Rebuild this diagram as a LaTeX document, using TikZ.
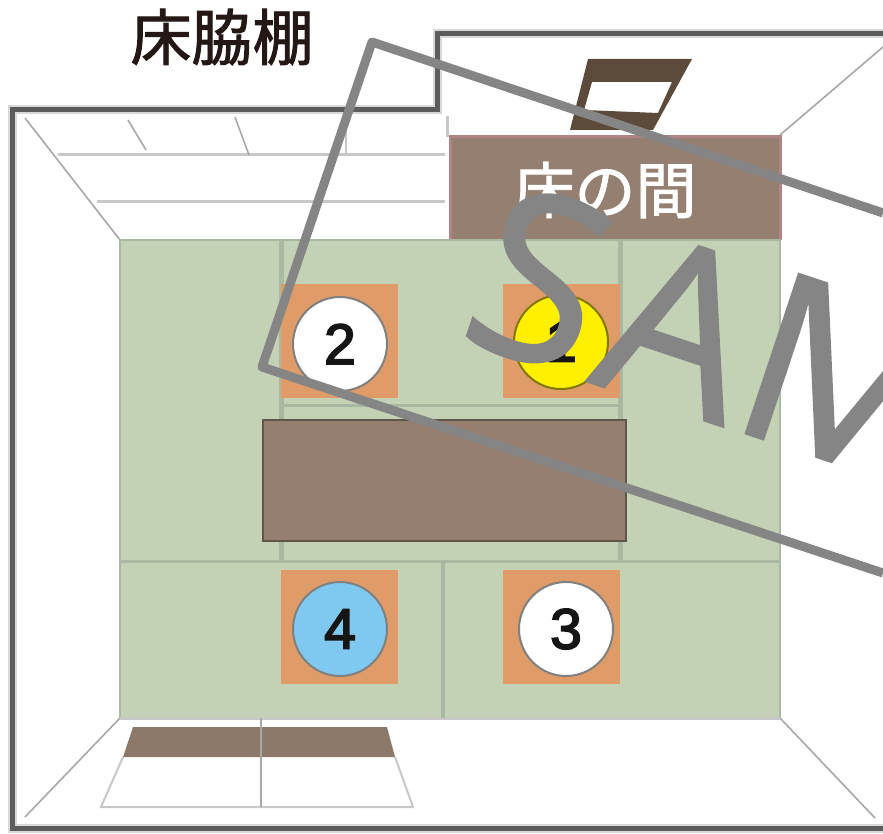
\documentclass[tikz,border=0pt]{standalone}
\usepackage{fontspec}
\setmainfont{Liberation Sans}
\newfontfamily\cjkfont[FakeBold=1.5]{Noto Sans CJK JP}
\newfontfamily\stampfont[FakeBold=1.1]{Open Sans}
\newfontfamily\numfont[FakeBold=3]{Liberation Sans}
\tikzset{
  wall/.style={draw=wallgray,line width=5pt,miter limit=10},
  wall halo/.style={draw=halogray,line width=9pt,miter limit=10},
  thin line/.style={draw=thingray,line width=1.6pt},
  shelf line/.style={draw=shelfgray,line width=3pt},
  seam/.style={draw=seamgreen,line width=3pt},
  cushion/.style={fill=cushionorange,draw=none},
  seat/.style={circle,minimum size=94pt,inner sep=0pt,line width=2pt,font=\numfont\fontsize{57}{57}\selectfont,text=numink},
  stamp line/.style={draw=stampgray,line width=9pt,line join=round},
  stamp letter/.style={rotate=-18.4,anchor=base west,inner sep=0pt,text=stampgray},
}
\definecolor{wallgray}{HTML}{5C5C5C}
\definecolor{halogray}{HTML}{D8D8D8}
\definecolor{thingray}{HTML}{A8A8A8}
\definecolor{shelfgray}{HTML}{C8C8C8}
\definecolor{seamgreen}{HTML}{A9B8A3}
\definecolor{tatami}{HTML}{C3D1B4}
\definecolor{cushionorange}{HTML}{E09C68}
\definecolor{numink}{HTML}{151515}
\definecolor{brownmat}{HTML}{947F70}
\definecolor{tablebrown}{HTML}{967F70}
\definecolor{tableedge}{HTML}{5F5548}
\definecolor{pinkedge}{HTML}{B08484}
\definecolor{darkwood}{HTML}{5C4A3A}
\definecolor{stampgray}{HTML}{858585}
\definecolor{seatblue}{HTML}{7FC8F0}
\definecolor{seatyellow}{HTML}{FFF000}
\definecolor{titleink}{HTML}{231815}
\begin{document}
\begin{tikzpicture}[x=1pt,y=-1pt]
\useasboundingbox (0,0) rectangle (883,834);
\clip (0,0) rectangle (883,834);
\fill[white] (0,0) rectangle (883,834);
% title
\node (title) at (222,37) {\cjkfont\fontsize{61}{61}\selectfont\color{titleink}床脇棚};
% perspective lines
\draw[thin line] (25,118) -- (120,240);
\draw[thin line] (780,135) -- (883,47);
\draw[thin line] (120,718) -- (25,817);
\draw[thin line] (780,718) -- (875,818);
\draw[shelf line] (58,155) -- (445,155);
\draw[shelf line] (97,202) -- (445,202);
\draw[thin line] (128,120) -- (146,150);
\draw[thin line] (235,117) -- (249,155);
\draw[shelf line,line width=2pt] (346,120) -- (346,155);
\draw[shelf line] (447,116) -- (447,137);
% hanging scroll
\fill[darkwood,even odd rule] (588,59) -- (692,59) -- (653,130) -- (570,130) -- cycle
  (592,82) -- (672,82) -- (658,113) -- (584,110) -- cycle;
% alcove
\fill[brownmat] (450,137) rectangle (780,240);
\draw[pinkedge,line width=3pt] (450,240) -- (450,137) -- (780,137) -- (780,240);
\node (alcove) at (605,190) {\cjkfont\fontsize{61}{61}\selectfont\color{white}床の間};
% tatami
\fill[tatami] (120,240) rectangle (780,718);
\draw[seamgreen,line width=2pt] (120,718) -- (120,240) -- (780,240) -- (780,718);
\draw[shelf line] (120,718) -- (780,718);
\draw[seam,line width=5pt] (281,240) -- (281,561);
\draw[seam,line width=5pt] (620,240) -- (620,561);
\draw[seam] (281,405) -- (620,405);
\draw[seam] (120,561) -- (780,561);
\draw[seam,line width=4pt] (443,561) -- (443,718);
% cushions
\fill[cushion] (281,284) rectangle (398,398);
\fill[cushion] (503,284) rectangle (620,398);
\fill[cushion] (281,570) rectangle (398,684);
\fill[cushion] (503,570) rectangle (620,684);
% seats
\node[seat,draw=gray,fill=white] (seat2) at (340,344) {2};
\node[seat,draw=black!50!seatyellow,fill=seatyellow] (seat1) at (561,342) {1};
\node[seat,draw=gray,fill=seatblue] (seat4) at (340,629) {4};
\node[seat,draw=gray,fill=white] (seat3) at (566,629) {3};
% table
\filldraw[fill=tablebrown,draw=tableedge,line width=2pt] (263,420) rectangle (626,541);
% lower shelf
\fill[brownmat!95!black] (133,727) -- (387,727) -- (395,757) -- (123,757) -- cycle;
\draw[shelf line,line width=2pt] (123,757) -- (101,807) -- (413,807) -- (395,757);
\draw[thin line] (261,718) -- (261,807);
% outer wall
\draw[wall halo] (883,34) -- (437,34) -- (437,110) -- (12,110) -- (12,828) -- (883,828);
\draw[wall] (883,34) -- (437,34) -- (437,110) -- (12,110) -- (12,828) -- (883,828);
% stamp
\draw[stamp line] (883,213) -- (372,42) -- (262,367) -- (883,573);
\node[stamp letter] (stampS) at (454,337) {\stampfont\fontsize{232}{232}\selectfont S};
\node[stamp letter] (stampA) at (586,381) {\stampfont\fontsize{228}{228}\selectfont A};
\node[stamp letter] (stampM) at (724,426) {\stampfont\fontsize{235}{235}\selectfont M};
\end{tikzpicture}
\end{document}
